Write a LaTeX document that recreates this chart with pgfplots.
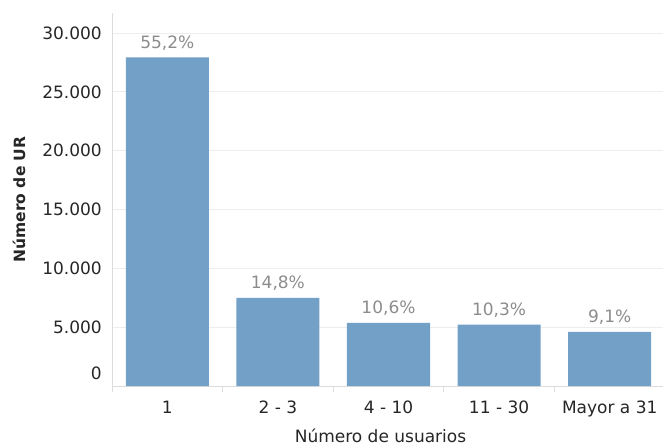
\documentclass[border=0pt]{standalone}
\usepackage{fontspec}
\setmainfont{DejaVu Sans}
\usepackage{pgfplots}
\usepackage{pgfplotstable}
\pgfplotsset{compat=1.18}
\definecolor{barblue}{HTML}{73A0C6}
\definecolor{gridgray}{HTML}{EDEDED}
\definecolor{axgray}{HTML}{DCDCDC}
\definecolor{pctgray}{HTML}{8C8C8C}
\definecolor{txt}{HTML}{262626}
\pgfplotstableread{
x y pct
0 27930 55.2
1 7490 14.8
2 5360 10.6
3 5210 10.3
4 4600 9.1
}\datatable
\begin{document}
\begin{tikzpicture}
\useasboundingbox (-112bp,-61bp) rectangle (551bp,386bp);
\begin{axis}[
  at={(0,0)}, anchor=south west,
  scale only axis, width=553bp, height=373bp,
  xmin=-0.5, xmax=4.5, ymin=0, ymax=31700,
  scaled y ticks=false,
  /pgf/number format/assume math mode=true,
  axis x line*=bottom, axis y line*=left,
  axis line style={draw=axgray, line width=0.8bp},
  ymajorgrids, grid style={draw=gridgray, line width=0.8bp},
  xtick={0,1,2,3,4},
  xticklabels={1,2 - 3,4 - 10,11 - 30,Mayor a 31},
  minor xtick={-0.5,0.5,1.5,2.5,3.5},
  major tick length=0pt, minor tick length=6bp, tick align=outside,
  minor tick style={draw=axgray, line width=0.8bp},
  ytick={0,5000,10000,15000,20000,25000,30000},
  yticklabels={\raisebox{26bp}{0},5.000,10.000,15.000,20.000,25.000,30.000},
  yticklabel style={anchor=east, inner sep=0pt, xshift=-10bp, text=txt, font=\fontsize{17bp}{20bp}\selectfont},
  xticklabel style={anchor=base, inner sep=0pt, yshift=-27bp, text=txt, font=\fontsize{17bp}{20bp}\selectfont},
  every axis y label/.style={at={(axis description cs:0,0.5)}, xshift=-93bp, rotate=90, anchor=center, text=txt, font=\bfseries\fontsize{15.5bp}{18bp}\selectfont},
  every axis x label/.style={at={(axis description cs:0.5,0)}, yshift=-50bp, xshift=-8bp, anchor=center, text=txt, font=\fontsize{17bp}{20bp}\selectfont},
  ylabel={Número de UR},
  xlabel={Número de usuarios},
  clip=false,
]
\addplot[ybar, bar width=83bp, fill=barblue, draw=none,
  point meta=explicit,
  nodes near coords={\pgfmathprintnumber[fixed,fixed zerofill,precision=1,use comma,assume math mode=true]{\pgfplotspointmeta}\%},
  every node near coord/.append style={anchor=base, yshift=9bp, text=pctgray, font=\fontsize{17bp}{20bp}\selectfont}]
  table[x=x, y=y, meta=pct] {\datatable};
\end{axis}
\end{tikzpicture}
\end{document}
